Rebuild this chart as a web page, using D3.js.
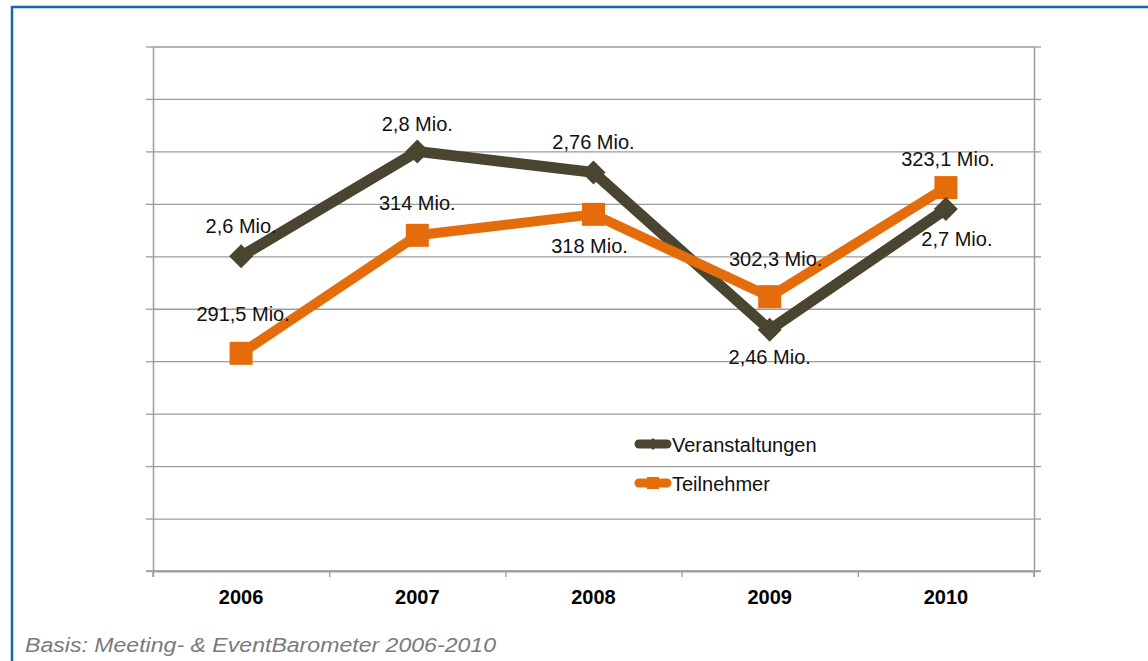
<!DOCTYPE html>
<html>
<head>
<meta charset="utf-8">
<script src="https://cdn.jsdelivr.net/npm/d3@7"></script>
<style>
  html, body { margin: 0; padding: 0; background: #fff; }
  svg { display: block; font-family: "Liberation Sans", Arial, sans-serif; }
</style>
</head>
<body>
<div id="chart"></div>
<script>
// data
var years = ["2006", "2007", "2008", "2009", "2010"];
var veranstaltungen = [2.6, 2.8, 2.76, 2.46, 2.69];           // Mio.
var veranstaltungenLabels = ["2,6 Mio.", "2,8 Mio.", "2,76 Mio.", "2,46 Mio.", "2,7 Mio."];
var teilnehmer = [291.5, 314, 318, 302.3, 323.1];             // Mio.
var teilnehmerLabels = ["291,5 Mio.", "314 Mio.", "318 Mio.", "302,3 Mio.", "323,1 Mio."];
var seriesNames = ["Veranstaltungen", "Teilnehmer"];

var width = 1148, height = 661;
var margin = {top: 46.5, right: 114, bottom: 90, left: 153};
var w = width - margin.left - margin.right,
    h = height - margin.top - margin.bottom;

var darkColor = "#4a4530", orangeColor = "#e46c0a", gridColor = "#9c9c9c";

var svg = d3.select("#chart").append("svg")
    .attr("width", width)
    .attr("height", height);

// blue frame (runs off the right and bottom edge)
svg.append("rect")
    .attr("x", 12).attr("y", 7)
    .attr("width", 1300).attr("height", 800)
    .attr("fill", "none")
    .attr("stroke", "#1b62b0")
    .attr("stroke-width", 2.5);

var g = svg.append("g")
    .attr("transform", "translate(" + margin.left + "," + margin.top + ")");

var x = d3.scalePoint().domain(years).range([0, w]).padding(0.5);
var xEdges = d3.scaleLinear().domain([0, years.length]).range([0, w]);
var y1 = d3.scaleLinear().domain([2.0, 3.0]).range([h, 0]);
var y2 = d3.scaleLinear().domain([250, 350]).range([h, 0]);

// gridlines
g.append("g")
    .attr("class", "grid")
    .call(d3.axisLeft(y1).ticks(10).tickSize(-w).tickFormat(""))
    .call(function (s) {
        s.select(".domain").remove();
        s.selectAll("line").attr("stroke", gridColor).attr("stroke-width", 1.3);
    });

// left axis, right axis, bottom axis (no value labels)
g.append("g")
    .call(d3.axisLeft(y1).ticks(10).tickSize(7).tickSizeOuter(0).tickFormat(""))
    .call(styleAxis);
g.append("g")
    .attr("transform", "translate(" + w + ",0)")
    .call(d3.axisRight(y2).ticks(10).tickSize(7).tickSizeOuter(0).tickFormat(""))
    .call(styleAxis);
g.append("g")
    .attr("transform", "translate(0," + h + ")")
    .call(d3.axisBottom(xEdges).tickValues(d3.range(years.length + 1)).tickSize(6).tickSizeOuter(0).tickFormat(""))
    .call(styleAxis);

function styleAxis(s) {
    s.selectAll("line").attr("stroke", gridColor).attr("stroke-width", 1.3);
    s.select(".domain").attr("stroke", gridColor).attr("stroke-width", 1.5);
}

// extend the vertical axis lines down to the tick ends
g.append("line").attr("x1", 0).attr("x2", 0).attr("y1", h).attr("y2", h + 6)
    .attr("stroke", gridColor).attr("stroke-width", 1.5);
g.append("line").attr("x1", w).attr("x2", w).attr("y1", h).attr("y2", h + 6)
    .attr("stroke", gridColor).attr("stroke-width", 1.5);
g.append("line").attr("x1", -7).attr("x2", w + 7).attr("y1", h).attr("y2", h)
    .attr("stroke", gridColor).attr("stroke-width", 1.5);

// year labels
g.selectAll(".year")
    .data(years)
    .enter().append("text")
    .attr("class", "year")
    .attr("x", function (d) { return x(d); })
    .attr("y", h + 33)
    .attr("text-anchor", "middle")
    .attr("font-size", 20)
    .attr("font-weight", "bold")
    .attr("fill", "#000")
    .text(function (d) { return d; });

// lines
var line1 = d3.line().x(function (d, i) { return x(years[i]); }).y(function (d) { return y1(d); });
var line2 = d3.line().x(function (d, i) { return x(years[i]); }).y(function (d) { return y2(d); });

g.append("path")
    .datum(veranstaltungen)
    .attr("d", line1)
    .attr("fill", "none")
    .attr("stroke", darkColor)
    .attr("stroke-width", 11)
    .attr("stroke-linejoin", "round");

g.append("path")
    .datum(teilnehmer)
    .attr("d", line2)
    .attr("fill", "none")
    .attr("stroke", orangeColor)
    .attr("stroke-width", 10)
    .attr("stroke-linejoin", "round");

// markers
g.selectAll(".sq")
    .data(teilnehmer)
    .enter().append("rect")
    .attr("class", "sq")
    .attr("x", function (d, i) { return x(years[i]) - 11.5; })
    .attr("y", function (d) { return y2(d) - 11.5; })
    .attr("width", 23)
    .attr("height", 23)
    .attr("fill", orangeColor);

var diamond = "M0,-12L12,0L0,12L-12,0Z";
g.selectAll(".dm")
    .data(veranstaltungen)
    .enter().append("path")
    .attr("class", "dm")
    .attr("d", diamond)
    .attr("transform", function (d, i) { return "translate(" + x(years[i]) + "," + y1(d) + ")"; })
    .attr("fill", darkColor);

// data labels: [dx, dy of baseline relative to point]
var vOffsets = [[0, -23], [0, -20], [0, -23], [0, 34], [11, 37]];
var tOffsets = [[2, -32], [0, -25], [-4, 39], [6, -31], [2, -22]];

g.selectAll(".vlab")
    .data(veranstaltungen)
    .enter().append("text")
    .attr("class", "vlab")
    .attr("x", function (d, i) { return x(years[i]) + vOffsets[i][0]; })
    .attr("y", function (d, i) { return y1(d) + vOffsets[i][1]; })
    .attr("text-anchor", "middle")
    .attr("font-size", 20)
    .attr("fill", "#111")
    .text(function (d, i) { return veranstaltungenLabels[i]; });

g.selectAll(".tlab")
    .data(teilnehmer)
    .enter().append("text")
    .attr("class", "tlab")
    .attr("x", function (d, i) { return x(years[i]) + tOffsets[i][0]; })
    .attr("y", function (d, i) { return y2(d) + tOffsets[i][1]; })
    .attr("text-anchor", "middle")
    .attr("font-size", 20)
    .attr("fill", "#111")
    .text(function (d, i) { return teilnehmerLabels[i]; });

// legend
var legend = svg.append("g").attr("transform", "translate(635,444)");
var legendColors = [darkColor, orangeColor];
seriesNames.forEach(function (name, i) {
    var row = legend.append("g").attr("transform", "translate(0," + (i * 39) + ")");
    row.append("line")
        .attr("x1", 4).attr("x2", 32).attr("y1", 0).attr("y2", 0)
        .attr("stroke", legendColors[i])
        .attr("stroke-width", 9)
        .attr("stroke-linecap", "round");
    if (i === 0) {
        row.append("path").attr("d", "M0,-6L6,0L0,6L-6,0Z")
            .attr("transform", "translate(18,0)").attr("fill", legendColors[i]);
    } else {
        row.append("rect").attr("x", 12).attr("y", -6).attr("width", 12).attr("height", 12)
            .attr("fill", legendColors[i]);
    }
    row.append("text")
        .attr("x", 37)
        .attr("y", 8)
        .attr("font-size", 20)
        .attr("fill", "#111")
        .text(name);
});

// source note
svg.append("text")
    .attr("x", 25)
    .attr("y", 652)
    .attr("font-size", 20)
    .attr("font-style", "italic")
    .attr("fill", "#7a7a7a")
    .attr("textLength", 471)
    .attr("lengthAdjust", "spacingAndGlyphs")
    .text("Basis: Meeting- & EventBarometer 2006-2010");
</script>
</body>
</html>
